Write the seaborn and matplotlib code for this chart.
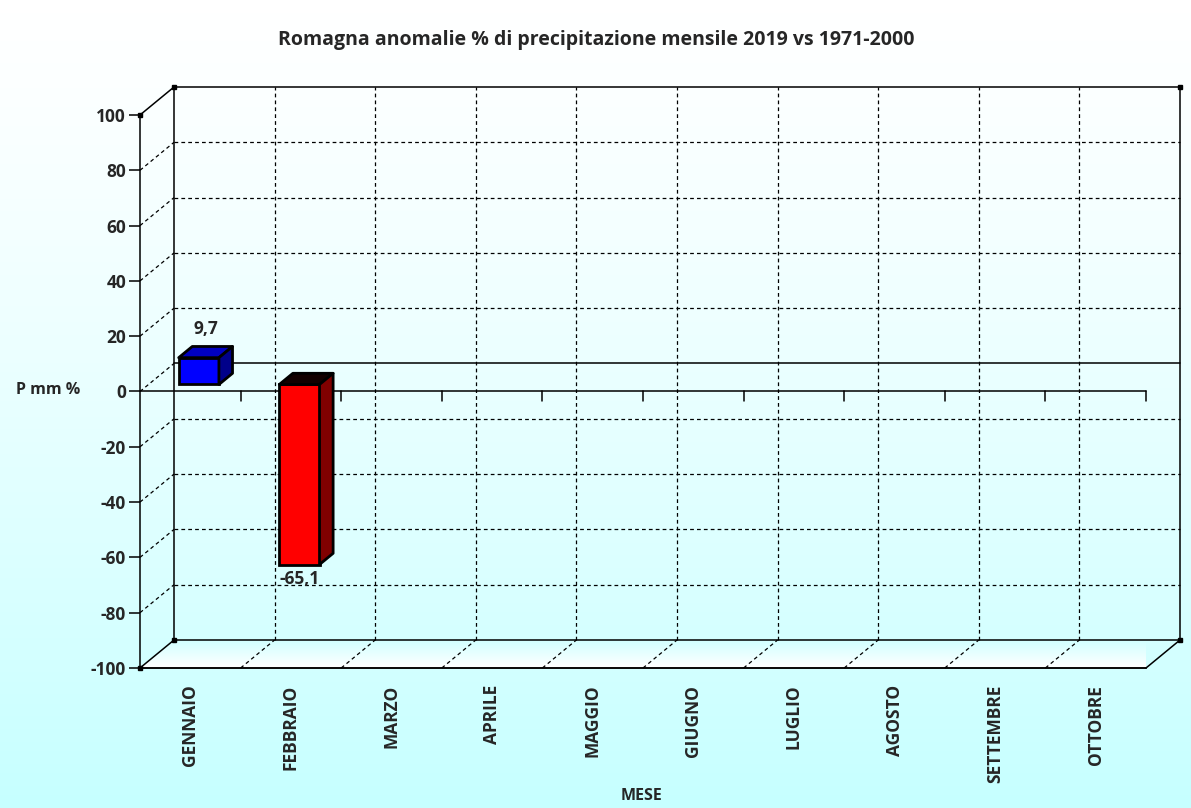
import numpy as np
import pandas as pd
import seaborn as sns
import matplotlib.pyplot as plt
from matplotlib.patches import Polygon, Rectangle
from matplotlib.colors import LinearSegmentedColormap

mesi = ['GENNAIO', 'FEBBRAIO', 'MARZO', 'APRILE', 'MAGGIO', 'GIUGNO',
        'LUGLIO', 'AGOSTO', 'SETTEMBRE', 'OTTOBRE']
mesi_dati = ['GENNAIO', 'FEBBRAIO']
anomalie = [9.7, -65.1]
etichette = ['9,7', '-65,1']
y_ticks = [-100, -80, -60, -40, -20, 0, 20, 40, 60, 80, 100]

sns.set_style('white')
plt.rcParams['font.family'] = ['Open Sans', 'DejaVu Sans']

W, H = 1191, 808
fig = plt.figure(figsize=(W / 100, H / 100), dpi=100)

# sfondo sfumato bianco -> azzurro
bg = fig.add_axes([0, 0, 1, 1], zorder=-10)
grad = np.linspace(0, 1, 256).reshape(-1, 1) ** 1.3
cmap_bg = LinearSegmentedColormap.from_list('bg', ['#ffffff', '#c6ffff'])
bg.imshow(grad, aspect='auto', cmap=cmap_bg, extent=(0, 1, 1, 0))
bg.axis('off')

left_px, right_px, top_px, bot_px = 140, 1146, 115, 668
ax = fig.add_axes([left_px / W, 1 - bot_px / H,
                   (right_px - left_px) / W, (bot_px - top_px) / H])
ax.set_facecolor('none')

xmin, xmax, ymin, ymax = -0.5, 9.5, -100, 100
# profondita 3D in unita dati
DX = 34 / ((right_px - left_px) / (xmax - xmin))
DY = 28 / ((bot_px - top_px) / (ymax - ymin))

df = pd.DataFrame({'mese': mesi_dati, 'anomalia': anomalie})
colori = ['#0000ff' if v >= 0 else '#ff0000' for v in anomalie]
sns.barplot(data=df, x='mese', y='anomalia', order=mesi, hue='mese',
            palette=colori, saturation=1, width=0.4, edgecolor='black',
            linewidth=2, legend=False, ax=ax, zorder=5)
barre = [b for b in ax.patches if isinstance(b, Rectangle)
         and np.isfinite(b.get_height()) and b.get_height() != 0]

lw = 1.1
ln = dict(color='black', lw=lw, clip_on=False)
dash = dict(color='black', lw=0.9, ls=(0, (3, 2.5)), clip_on=False)

# parete di fondo
bx0, bx1 = xmin + DX, xmax + DX
for v in y_ticks:
    style = ln if v in (ymin, ymax, 0) else dash
    ax.plot([bx0, bx1], [v + DY, v + DY], zorder=1, **style)
for k in range(1, 10):
    ax.plot([k - 0.5 + DX] * 2, [ymin + DY, ymax + DY], zorder=1, **dash)
ax.plot([bx0, bx0], [ymin + DY, ymax + DY], zorder=1.5, **ln)
ax.plot([bx1, bx1], [ymin + DY, ymax + DY], zorder=1.5, **ln)

# parete laterale sinistra
for v in y_ticks:
    style = ln if v in (ymin, ymax) else dash
    ax.plot([xmin, xmin + DX], [v, v + DY], zorder=1, **style)

# pavimento
floor = Polygon([(xmin, ymin), (xmax, ymin), (xmax + DX, ymin + DY),
                 (xmin + DX, ymin + DY)], closed=True, fc='none', ec='none',
                transform=ax.transData)
ax.add_patch(floor)
cmap_fl = LinearSegmentedColormap.from_list('fl', ['#ffffff', '#d2ffff'])
im = ax.imshow(np.linspace(0, 1, 64).reshape(-1, 1), aspect='auto',
               cmap=cmap_fl, extent=(xmin, xmax + DX, ymin + DY, ymin),
               zorder=0.5)
im.set_clip_path(floor)
for k in range(1, 10):
    ax.plot([k - 0.5, k - 0.5 + DX], [ymin, ymin + DY], zorder=1, **dash)
ax.plot([xmax, xmax + DX], [ymin, ymin + DY], zorder=1, **ln)

# assi frontali
ax.plot([xmin, xmax], [0, 0], zorder=2, **ln)
ax.plot([xmin, xmax], [ymin, ymin], zorder=2, **ln)
for k in range(1, 11):
    ax.plot([k - 0.5] * 2, [0, -3.6], zorder=2, **ln)
ax.plot([xmin, xmin + DX, xmax + DX, xmax + DX, xmin + DX, xmin],
        [ymax, ymax + DY, ymax + DY, ymin + DY, ymin + DY, ymin], ls='none',
        marker='s', ms=3.5, mfc='black', mec='black', clip_on=False, zorder=3)

# barre pseudo-3D
dep0, dep1 = 0.25, 0.65
for p, v, lab in zip(barre, anomalie, etichette):
    p.set_x(p.get_x() + dep0 * DX)
    p.set_y(dep0 * DY)
    p.set_clip_on(False)
    x0, x1 = p.get_x(), p.get_x() + p.get_width()
    yb, yt = p.get_y(), p.get_y() + p.get_height()
    top, bottom = max(yb, yt), min(yb, yt)
    ddx, ddy = (dep1 - dep0) * DX, (dep1 - dep0) * DY
    if v >= 0:
        top_c, side_c = '#0000c0', '#00008a'
    else:
        top_c, side_c = '#120000', '#800000'
    ax.add_patch(Polygon([(x0, top), (x1, top), (x1 + ddx, top + ddy),
                          (x0 + ddx, top + ddy)], fc=top_c, ec='black',
                         lw=2, zorder=5, clip_on=False, joinstyle='round'))
    ax.add_patch(Polygon([(x1, bottom), (x1, top), (x1 + ddx, top + ddy),
                          (x1 + ddx, bottom + ddy)], fc=side_c, ec='black',
                         lw=2, zorder=5, clip_on=False, joinstyle='round'))
    xc = (x0 + x1) / 2
    if v >= 0:
        ax.annotate(lab, (xc + 0.2 * DX, top + 0.4 * DY), xytext=(0, 6),
                    textcoords='offset points', ha='center', va='bottom',
                    fontsize=12.5, fontweight='bold', zorder=6)
    else:
        ax.annotate(lab, (xc, bottom), xytext=(0, -4),
                    textcoords='offset points', ha='center', va='top',
                    fontsize=12.5, fontweight='bold', zorder=6)

ax.set_xlim(xmin, xmax)
ax.set_ylim(ymin, ymax)
ax.set_yticks(y_ticks)
ax.set_yticklabels([str(v) for v in y_ticks], fontsize=12.5, fontweight='bold')
ax.set_xticks(range(len(mesi)))
ax.set_xticklabels(mesi, rotation=90, fontsize=12.5, fontweight='bold',
                   va='top')
ax.set_xticks(np.arange(-0.5, 10, 1), minor=True)
ax.tick_params(axis='x', which='major', length=0, pad=12)
ax.tick_params(axis='x', which='minor', length=10, width=lw, direction='out',
               color='black')
ax.tick_params(axis='y', length=8, width=lw, direction='out', color='black',
               pad=2, left=True)
for s in ['top', 'right']:
    ax.spines[s].set_visible(False)
for s in ['left', 'bottom']:
    ax.spines[s].set_linewidth(lw)
    ax.spines[s].set_color('black')
ax.set_xlabel('')
ax.set_ylabel('')

fig.text(48 / W, 1 - 390 / H, 'P mm %', ha='center', va='center',
         fontsize=11.5, fontweight='bold')
fig.text(641 / W, 1 - 796 / H, 'MESE', ha='center', va='center',
         fontsize=11.5, fontweight='bold')
fig.text(596 / W, 1 - 40 / H,
         'Romagna anomalie % di precipitazione mensile 2019 vs 1971-2000',
         ha='center', va='center', fontsize=14, fontweight='bold')

fig.savefig('out.png', dpi=100)
